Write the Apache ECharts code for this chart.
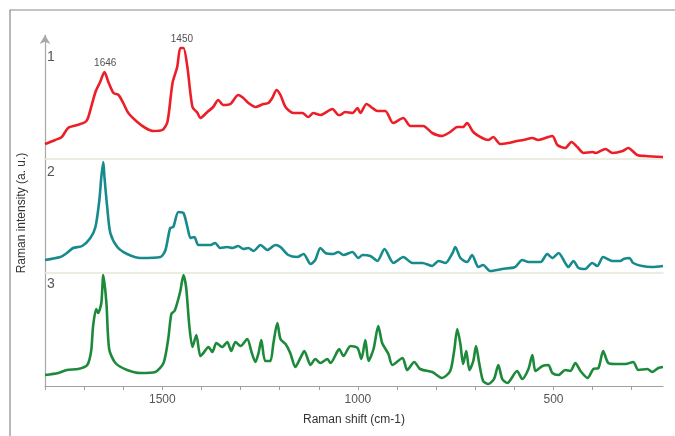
<!DOCTYPE html>
<html>
<head>
<meta charset="utf-8">
<script src="https://cdn.jsdelivr.net/npm/echarts@6/dist/echarts.min.js"></script>
<style>html,body{margin:0;padding:0;background:#fff}#c{width:675px;height:436px}</style>
</head>
<body>
<div id="c"></div>
<script>
// ---- data (Raman shift in cm-1, intensity in arbitrary units above each trace's baseline) ----
const redShift = [1800,1774,1757,1741,1717,1697,1690,1671,1659,1648,1638,1625,1612,1600,1587,1564,1543,1523,1500,1487,1474,1462,1454,1446,1436,1423,1410,1403,1385,1370,1357,1344,1326,1306,1293,1280,1262,1242,1229,1219,1208,1198,1185,1165,1142,1127,1114,1096,1065,1050,1045,1033,1014,1001,994,978,963,950,930,910,884,866,833,810,785,764,746,731,721,705,682,667,654,636,616,593,577,554,539,503,490,470,454,439,423,400,392,367,349,323,309,286,265,220];
const redValue = [15,19,22,31,34,37,41,67,77,87,77,66,64,56,46,37,31,28,29,37,76,92,111,111,92,52,46,41,47,52,59,54,55,64,61,56,52,55,56,61,69,64,52,46,46,42,46,44,50,44,44,47,46,51,46,55,51,48,48,36,41,33,33,26,23,27,32,32,36,27,21,19,22,15,16,18,19,21,19,23,14,11,17,12,6,7,6,10,6,8,11,4,3,2];

const tealShift = [1800,1761,1744,1728,1705,1684,1671,1661,1656,1651,1648,1641,1633,1615,1590,1556,1505,1492,1480,1472,1459,1446,1436,1428,1418,1408,1377,1365,1352,1334,1321,1306,1293,1280,1267,1249,1231,1211,1198,1178,1155,1139,1121,1109,1096,1083,1063,1050,1037,1014,999,988,968,950,932,909,884,861,835,810,794,776,758,751,738,721,708,692,680,662,631,598,580,564,533,516,503,487,470,462,449,436,419,401,388,373,349,329,321,306,296,273,248,220];
const tealValue = [13,16,20,25,27,35,46,73,96,111,96,66,40,26,19,15,16,23,45,46,61,60,46,35,36,28,28,30,25,26,25,27,24,25,22,28,23,28,26,18,16,19,9,13,25,20,19,21,18,21,15,18,17,12,24,10,16,10,10,7,12,10,20,26,15,11,18,6,8,2,4,6,13,11,11,19,15,20,10,6,12,5,4,10,7,16,12,12,14,15,10,7,6,7];

const greenShift = [1800,1766,1744,1715,1692,1682,1677,1669,1664,1656,1651,1643,1636,1620,1590,1556,1518,1497,1485,1477,1469,1462,1454,1446,1439,1431,1423,1413,1403,1395,1382,1372,1362,1347,1334,1324,1313,1300,1283,1272,1262,1254,1247,1237,1224,1216,1206,1198,1185,1173,1160,1147,1137,1121,1109,1096,1078,1070,1052,1048,1037,1019,1001,991,981,973,960,948,938,922,912,886,874,856,841,810,785,764,754,746,738,731,723,715,705,698,690,680,667,652,641,631,618,593,580,564,554,546,528,513,503,487,470,457,444,431,413,398,385,373,360,342,316,296,283,260,248,232,220];
const greenValue = [11,13,16,17,21,35,60,77,73,83,111,83,37,23,16,13,14,23,47,72,75,83,95,111,98,60,39,51,30,33,39,34,43,39,44,35,44,40,47,34,24,33,46,25,25,43,63,47,42,33,19,28,35,21,27,23,27,23,35,37,30,40,38,27,46,25,37,60,43,32,21,28,16,24,17,14,8,15,35,57,42,22,35,16,25,40,23,5,2,7,21,7,3,15,7,17,31,15,20,21,13,11,16,15,23,15,8,17,18,35,23,22,22,24,16,17,14,18,19];

const traceLabels = ['1', '2', '3'];
const peakShift = [1646, 1450];
const peakValue = [87, 111];
const xTicks = [300,400,500,600,700,800,900,1000,1100,1200,1300,1400,1500,1600,1700,1800];
const xLabels = [500, 1000, 1500];

// ---- layout ----
const panels = [
  {top: 35, height: 124, color: '#ec1f28', shift: redShift, value: redValue},
  {top: 159, height: 114, color: '#178a8c', shift: tealShift, value: tealValue},
  {top: 273, height: 113, color: '#1d8a3b', shift: greenShift, value: greenValue}
];
const pair = (xs, ys) => xs.map((x, i) => [x, ys[i]]);

const grids = [], xAxes = [], yAxes = [], series = [];
panels.forEach((p, i) => {
  const last = i === panels.length - 1;
  grids.push({left: 45, right: 12, top: p.top, height: p.height});
  xAxes.push({
    type: 'value', gridIndex: i, inverse: true, min: 220, max: 1800,
    axisLine: {show: true, lineStyle: {color: last ? '#a0a0a0' : '#e6e8d6', width: last ? 1.2 : 1.5}},
    axisTick: {show: last, customValues: xTicks, length: 4, lineStyle: {color: '#a0a0a0'}},
    axisLabel: {show: last, customValues: xLabels, formatter: v => String(v), color: '#555', fontSize: 12, fontFamily: 'Liberation Sans, Arial', margin: 8},
    splitLine: {show: false},
    name: last ? 'Raman shift (cm-1)' : '', nameLocation: 'middle', nameGap: 28,
    nameTextStyle: {color: '#333', fontSize: 12, fontFamily: 'Liberation Sans, Arial'}
  });
  yAxes.push({
    type: 'value', gridIndex: i, min: 0, max: p.height,
    axisLine: {show: true, lineStyle: {color: '#a8a8a8', width: 1.2},
      symbol: i === 0 ? ['none', 'arrow'] : 'none', symbolSize: [8, 9]},
    axisTick: {show: false}, axisLabel: {show: false}, splitLine: {show: false}
  });
  series.push({
    type: 'line', xAxisIndex: i, yAxisIndex: i, data: pair(p.shift, p.value),
    showSymbol: false, smooth: 0.25, lineStyle: {color: p.color, width: 2.6}, z: 3
  });
});
series.push({
  type: 'scatter', xAxisIndex: 0, yAxisIndex: 0, symbolSize: 0,
  data: pair(peakShift, peakValue),
  label: {show: true, position: 'top', distance: 4, formatter: p => String(p.value[0]),
    color: '#222', fontSize: 10, fontFamily: 'Liberation Sans, Arial'}
});

const graphics = [
  {type: 'rect', shape: {x: 10, y: 10, width: 700, height: 500}, style: {fill: 'none', stroke: '#8a8a8a', lineWidth: 1.2}, silent: true},
  {type: 'text', x: 22, y: 213, rotation: Math.PI / 2,
    style: {text: 'Raman intensity (a. u.)', fill: '#333', font: '12px "Liberation Sans", Arial', textAlign: 'center', textVerticalAlign: 'middle'}}
];
const labelY = [57, 172, 284];
traceLabels.forEach((t, i) => graphics.push({type: 'text', x: 47, y: labelY[i],
  style: {text: t, fill: '#555', font: '14px "Liberation Sans", Arial', textAlign: 'left', textVerticalAlign: 'middle'}}));

const chart = echarts.init(document.getElementById('c'), null, {renderer: 'canvas'});
chart.setOption({
  animation: false, backgroundColor: '#fff',
  grid: grids, xAxis: xAxes, yAxis: yAxes, series: series, graphic: graphics
});
</script>
</body>
</html>
